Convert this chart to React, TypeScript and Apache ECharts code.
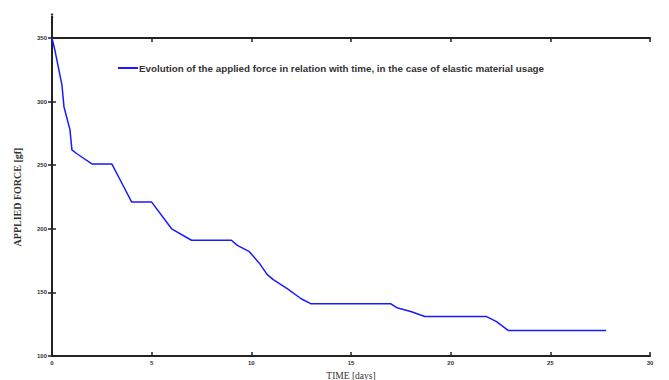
import React, { useEffect, useRef } from "react";
import * as echarts from "echarts";

const timeDays: number[] = [0, 0.15, 0.5, 0.6, 0.9, 1.0, 1.25, 2, 3, 3.5, 4, 5, 6, 7, 9, 9.3, 9.9, 10.4, 10.8, 11.1, 11.8, 12.5, 13, 17, 17.3, 18, 18.7, 21.8, 22.3, 22.9, 27.8];
const forceGf: number[] = [350, 340, 313, 296, 278, 262, 259, 251, 251, 236, 221, 221, 200, 191, 191, 187, 182, 173, 164, 160, 153, 145, 141, 141, 138, 135, 131, 131, 127, 120, 120];
const seriesName = "Evolution of the applied force in relation with time, in the case of elastic material usage";
const xAxisTitle = "TIME [days]";
const yAxisTitle = "APPLIED FORCE [gf]";

export default function App() {
  const ref = useRef<HTMLDivElement>(null);
  useEffect(() => {
    if (!ref.current) return;
    const chart = echarts.init(ref.current, undefined, { renderer: "svg" });
    const tickLabel = { fontSize: 6, color: "#333", fontFamily: "Liberation Sans", fontWeight: "bold" as const };
    const axisLine = { show: true, lineStyle: { color: "#222", width: 2 } };
    chart.setOption({
      animation: false,
      backgroundColor: "#fff",
      grid: { left: 44, right: 19, top: 30, bottom: 24, outerBoundsMode: "none", containLabel: false },
      legend: {
        show: true,
        left: 105,
        top: 50,
        itemWidth: 20,
        itemHeight: 8,
        itemGap: 2,
        icon: "path://M0,4 L20,4 L20,6 L0,6 Z",
        textStyle: { fontSize: 9.8, fontWeight: "bold", color: "#333", fontFamily: "Liberation Sans", padding: [0, 0, 0, -4] },
        data: [seriesName],
      },
      xAxis: [
        {
          type: "value",
          min: 0,
          max: 30,
          interval: 5,
          name: xAxisTitle,
          nameLocation: "middle",
          nameGap: 11,
          nameTextStyle: { fontSize: 9.5, color: "#333", fontFamily: "Liberation Serif" },
          axisLine,
          axisTick: { show: true, inside: true, length: 4, lineStyle: { color: "#222", width: 1.5 } },
          axisLabel: { ...tickLabel, margin: 4 },
          splitLine: { show: false },
        },
        {
          type: "value",
          position: "top",
          min: 0,
          max: 30,
          interval: 5,
          axisLine,
          axisTick: { show: true, inside: true, length: 4, lineStyle: { color: "#222", width: 1.5 } },
          axisLabel: { show: false },
          splitLine: { show: false },
        },
      ],
      yAxis: [
        {
          type: "value",
          min: 100,
          max: 350,
          interval: 50,
          name: yAxisTitle,
          nameLocation: "middle",
          nameGap: 30,
          nameRotate: 90,
          nameTextStyle: { fontSize: 10, fontWeight: "bold", color: "#333", fontFamily: "Liberation Serif" },
          axisLine,
          axisTick: { show: true, inside: true, length: 4, lineStyle: { color: "#222", width: 1.5 } },
          axisLabel: { ...tickLabel, margin: 5 },
          splitLine: { show: false },
        },
        {
          type: "value",
          position: "right",
          min: 100,
          max: 350,
          interval: 50,
          axisLine,
          axisTick: { show: true, inside: true, length: 4, lineStyle: { color: "#222", width: 1.5 } },
          axisLabel: { show: false },
          splitLine: { show: false },
        },
      ],
      graphic: [
        { type: "line", shape: { x1: 44, y1: 8, x2: 44, y2: 30 }, style: { stroke: "#222", lineWidth: 2 } },
        { type: "text", x: 44, y: 3, style: { text: "t", fontSize: 8, fontWeight: "bold", fill: "#222", align: "center", fontFamily: "Liberation Sans" } },
      ],
      series: [
        {
          name: seriesName,
          type: "line",
          data: timeDays.map((t, i) => [t, forceGf[i]]),
          symbol: "none",
          lineStyle: { color: "#1a1aff", width: 1.5 },
          itemStyle: { color: "#1a1aff" },
        },
      ],
    });
    return () => chart.dispose();
  }, []);
  return <div ref={ref} style={{ width: 661, height: 372 }} />;
}
